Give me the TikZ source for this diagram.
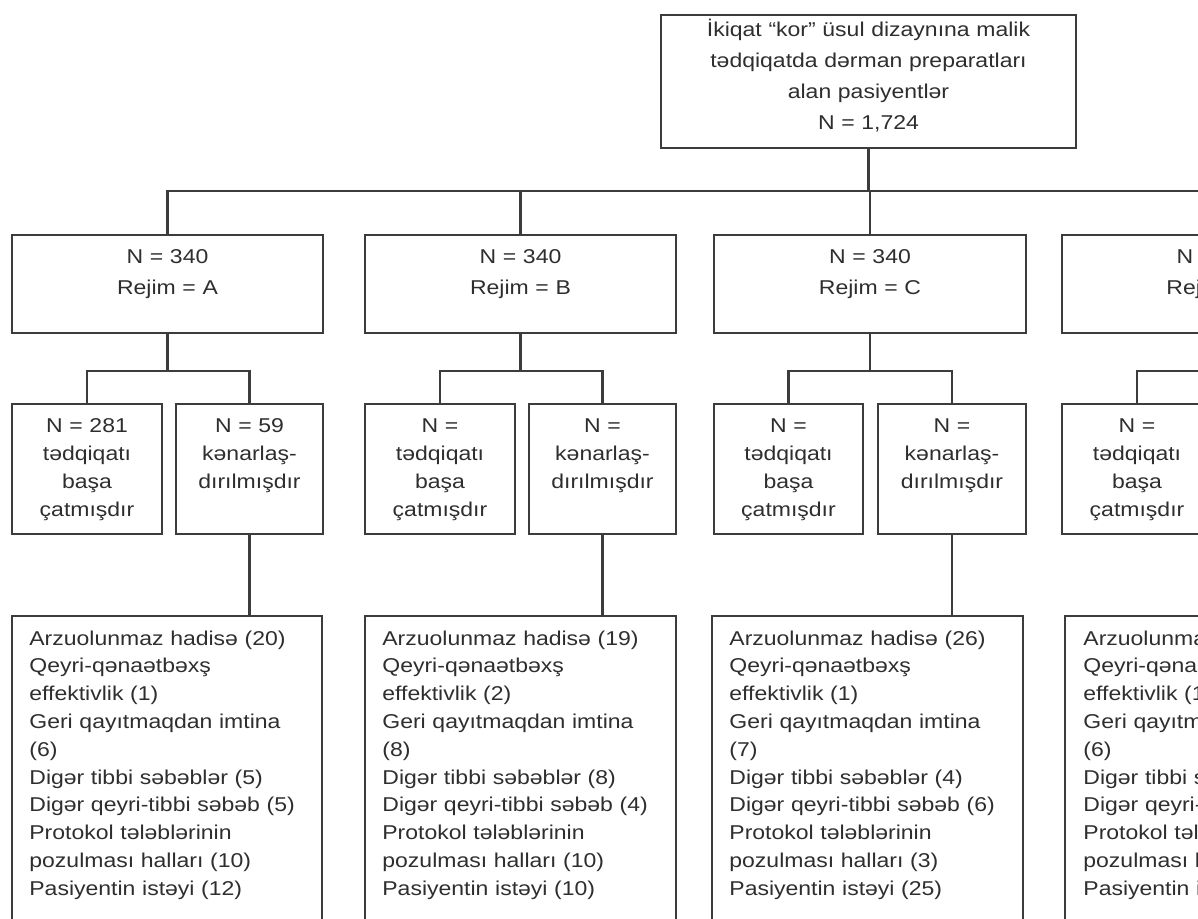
\documentclass[tikz,border=0pt]{standalone}
\usepackage{fontspec}
\setmainfont[FakeStretch=1.15]{Liberation Sans}
\usepackage{tikz}
\usetikzlibrary{fit}
\definecolor{linegray}{HTML}{3C3C3C}
\definecolor{textgray}{HTML}{2E2E2E}

\begin{document}
\begin{tikzpicture}[x=0.5pt, y=-0.5pt,
		box/.style={draw=linegray, line width=1.1pt, inner sep=0pt},
		wire/.style={draw=linegray, line width=1.1pt},
		txt/.style={inner sep=0pt, text=textgray, anchor=base},
		head/.style={txt, align=center, text width=150pt, font=\fontsize{10}{15.6}\selectfont},
		pair/.style={txt, align=center, text width=70pt, font=\fontsize{10}{14}\selectfont},
		list/.style={txt, anchor=base west, align=left, text width=150pt, font=\fontsize{10}{13.9}\selectfont}]
		\useasboundingbox (0,0) rectangle (1198,918);
		\clip (0,0) rectangle (1198,918);
		
		\node[box, fit={(661,15) (1076,148)}] (top) {};
		\node[head, text width=200pt] (topT) at (868.5,36) {İkiqat “kor” üsul dizaynına malik\\tədqiqatda dərman preparatları\\alan pasiyentlər\\N = 1,724};
		
		\node[box, fit={(12,235) (323,333)}] (regA) {};
		\node[box, fit={(365,235) (676,333)}] (regB) {};
		\node[box, fit={(714,235) (1026,333)}] (regC) {};
		\node[box, fit={(1062,235) (1373,333)}] (regD) {};
		\node[head] (regAT) at (167.5,263) {N = 340\\Rejim = A};
		\node[head] (regBT) at (520.5,263) {N = 340\\Rejim = B};
		\node[head] (regCT) at (870,263) {N = 340\\Rejim = C};
		\node[head] (regDT) at (1217.5,263) {N = 340\\Rejim = D};
		
		\node[box, fit={(12,404) (162,534)}] (doneA) {};
		\node[box, fit={(176,404) (323,534)}] (outA) {};
		\node[box, fit={(365,404) (515,534)}] (doneB) {};
		\node[box, fit={(529,404) (676,534)}] (outB) {};
		\node[box, fit={(714,404) (863,534)}] (doneC) {};
		\node[box, fit={(878,404) (1026,534)}] (outC) {};
		\node[box, fit={(1062,404) (1212,534)}] (doneD) {};
		\node[pair] (doneAT) at (87,432) {N = 281\\tədqiqatı\\başa\\çatmışdır};
		\node[pair] (outAT) at (249.5,432) {N = 59\\kənarlaş-\\dırılmışdır};
		\node[pair] (doneBT) at (440,432) {N =\\tədqiqatı\\başa\\çatmışdır};
		\node[pair] (outBT) at (602.5,432) {N =\\kənarlaş-\\dırılmışdır};
		\node[pair] (doneCT) at (788.5,432) {N =\\tədqiqatı\\başa\\çatmışdır};
		\node[pair] (outCT) at (952,432) {N =\\kənarlaş-\\dırılmışdır};
		\node[pair] (doneDT) at (1137,432) {N =\\tədqiqatı\\başa\\çatmışdır};
		
		\node[box, fit={(12,616) (322,980)}] (whyA) {};
		\node[box, fit={(365,616) (676,980)}] (whyB) {};
		\node[box, fit={(712,616) (1023,980)}] (whyC) {};
		\node[box, fit={(1065,616) (1375,980)}] (whyD) {};
		\node[list] (whyAT) at (29,645) {Arzuolunmaz hadisə (20)\\Qeyri-qənaətbəxş\\effektivlik (1)\\Geri qayıtmaqdan imtina\\(6)\\Digər tibbi səbəblər (5)\\Digər qeyri-tibbi səbəb (5)\\Protokol tələblərinin\\pozulması halları (10)\\Pasiyentin istəyi (12)};
		\node[list] (whyBT) at (382,645) {Arzuolunmaz hadisə (19)\\Qeyri-qənaətbəxş\\effektivlik (2)\\Geri qayıtmaqdan imtina\\(8)\\Digər tibbi səbəblər (8)\\Digər qeyri-tibbi səbəb (4)\\Protokol tələblərinin\\pozulması halları (10)\\Pasiyentin istəyi (10)};
		\node[list] (whyCT) at (729,645) {Arzuolunmaz hadisə (26)\\Qeyri-qənaətbəxş\\effektivlik (1)\\Geri qayıtmaqdan imtina\\(7)\\Digər tibbi səbəblər (4)\\Digər qeyri-tibbi səbəb (6)\\Protokol tələblərinin\\pozulması halları (3)\\Pasiyentin istəyi (25)};
		\node[list] (whyDT) at (1083,645) {Arzuolunmaz hadisə\\Qeyri-qənaətbəxş\\effektivlik (1)\\Geri qayıtmaqdan imtina\\(6)\\Digər tibbi səbəblər\\Digər qeyri-tibbi səbəb\\Protokol tələblərinin\\pozulması halları\\Pasiyentin istəyi};
		
		\coordinate (rail) at (0,191);
		\coordinate (fork) at (0,371);
		\coordinate (offD) at (1301,371);
		\draw[wire] (top.south) -- (top.south |- rail);
		\draw[wire] (regA.north) -- (regA.north |- rail) -- (regD.north |- rail) -- (regD.north);
		\draw[wire] (regB.north) -- (regB.north |- rail);
		\draw[wire] (regC.north) -- (regC.north |- rail);
		
		\draw[wire] (regA.south) -- (regA.south |- fork);
		\draw[wire] (doneA.north) |- (outA.north |- fork) -- (outA.north);
		\draw[wire] (regB.south) -- (regB.south |- fork);
		\draw[wire] (doneB.north) |- (outB.north |- fork) -- (outB.north);
		\draw[wire] (regC.south) -- (regC.south |- fork);
		\draw[wire] (doneC.north) |- (outC.north |- fork) -- (outC.north);
		\draw[wire] (regD.south) -- (regD.south |- fork);
		\draw[wire] (doneD.north) |- (offD);
		
		\draw[wire] (outA.south) -- (outA.south |- whyA.north);
		\draw[wire] (outB.south) -- (outB.south |- whyB.north);
		\draw[wire] (outC.south) -- (outC.south |- whyC.north);
		
\end{tikzpicture}
\end{document}
